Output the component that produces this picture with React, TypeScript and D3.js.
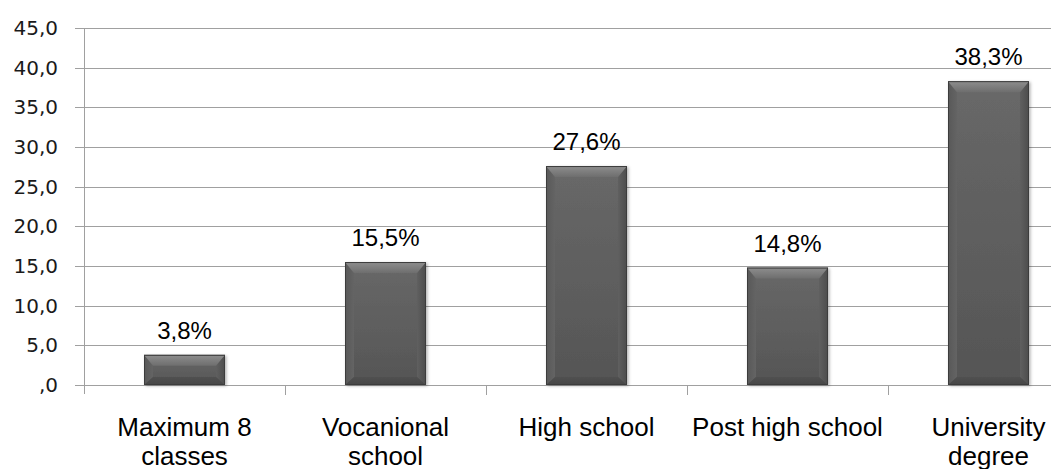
import React from "react";
import * as d3 from "d3";

// Education level of respondents (percent)
const categories: string[][] = [
  ["Maximum 8", "classes"],
  ["Vocanional", "school"],
  ["High school"],
  ["Post high school"],
  ["University", "degree"],
];
const values: number[] = [3.8, 15.5, 27.6, 14.8, 38.3];
const yTicks: number[] = [0, 5, 10, 15, 20, 25, 30, 35, 40, 45];
const yTickLabels: string[] = [",0", "5,0", "10,0", "15,0", "20,0", "25,0", "30,0", "35,0", "40,0", "45,0"];

const W = 1051;
const H = 469;
const left = 84;
const step = 201;
const top = 28;
const base = 385;

const fmt = (v: number) => v.toFixed(1).replace(".", ",") + "%";

export default function App() {
  const keys = categories.map((c) => c.join(" "));
  const x = d3
    .scaleBand<string>()
    .domain(keys)
    .range([left, left + step * keys.length])
    .paddingInner(0.597)
    .paddingOuter(0.597 / 2);
  const y = d3.scaleLinear().domain([0, 45]).range([base, top]);
  const grid = "#a0a0a0";
  const boundaries = d3.range(1, keys.length).map((i) => left + step * i);

  return (
    <div style={{ position: "fixed", left: 0, top: 0 }}>
      <svg width={W} height={H} style={{ display: "block", background: "#fff" }}>
        <defs>
          <linearGradient id="body" x1="0" y1="0" x2="0" y2="1">
            <stop offset="0" stopColor="#686868" />
            <stop offset="1" stopColor="#555555" />
          </linearGradient>
          <linearGradient id="topBevel" x1="0" y1="0" x2="0" y2="1">
            <stop offset="0" stopColor="#8e8e8e" />
            <stop offset="1" stopColor="#6e6e6e" />
          </linearGradient>
          <linearGradient id="leftBevel" x1="0" y1="0" x2="1" y2="0">
            <stop offset="0" stopColor="#585858" />
            <stop offset="1" stopColor="#646464" />
          </linearGradient>
          <linearGradient id="rightBevel" x1="0" y1="0" x2="1" y2="0">
            <stop offset="0" stopColor="#606060" />
            <stop offset="1" stopColor="#4c4c4c" />
          </linearGradient>
          <linearGradient id="bottomBevel" x1="0" y1="0" x2="0" y2="1">
            <stop offset="0" stopColor="#505050" />
            <stop offset="1" stopColor="#464646" />
          </linearGradient>
          <filter id="shadow" x="-10%" y="-10%" width="130%" height="130%">
            <feDropShadow dx="1.5" dy="1" stdDeviation="1.5" floodColor="#000" floodOpacity="0.3" />
          </filter>
        </defs>

        {/* horizontal gridlines with left ticks */}
        {yTicks.map((t) => (
          <line
            key={"g" + t}
            x1={left - 9}
            x2={W}
            y1={Math.round(y(t)) + 0.5}
            y2={Math.round(y(t)) + 0.5}
            stroke={grid}
            strokeWidth={1}
          />
        ))}
        {/* value axis */}
        <line x1={left + 0.5} x2={left + 0.5} y1={top} y2={base + 9} stroke={grid} strokeWidth={1} />
        {/* category separators */}
        {boundaries.map((b) => (
          <line key={"b" + b} x1={b + 0.5} x2={b + 0.5} y1={base} y2={base + 10} stroke={grid} strokeWidth={1} />
        ))}

        {yTicks.map((t, i) => (
          <text
            key={"l" + t}
            x={58}
            y={y(t) + 7}
            textAnchor="end"
            fontFamily="DejaVu Sans, Verdana, sans-serif"
            fontSize={20}
            fill="#1a1a1a"
          >
            {yTickLabels[i]}
          </text>
        ))}

        {values.map((v, i) => {
          const x0 = x(keys[i]) as number;
          const bw = x.bandwidth();
          const x1 = x0 + bw;
          const yt = y(v);
          const yb = y(0);
          const tb = 11;
          const sb = 9;
          const bb = 8;
          return (
            <g key={"bar" + i}>
              <g filter="url(#shadow)">
                <rect x={x0} y={yt} width={bw} height={yb - yt} fill="url(#body)" />
              </g>
              <polygon
                points={`${x0},${yt} ${x0 + sb},${yt + tb} ${x0 + sb},${yb - bb} ${x0},${yb}`}
                fill="url(#leftBevel)"
              />
              <polygon
                points={`${x1},${yt} ${x1 - sb},${yt + tb} ${x1 - sb},${yb - bb} ${x1},${yb}`}
                fill="url(#rightBevel)"
              />
              <polygon
                points={`${x0},${yb} ${x0 + sb},${yb - bb} ${x1 - sb},${yb - bb} ${x1},${yb}`}
                fill="url(#bottomBevel)"
              />
              <polygon
                points={`${x0},${yt} ${x1},${yt} ${x1 - sb},${yt + tb} ${x0 + sb},${yt + tb}`}
                fill="url(#topBevel)"
              />
              <rect
                x={x0 + 0.5}
                y={yt + 0.5}
                width={bw - 1}
                height={yb - yt - 1}
                fill="none"
                stroke="#3c3c3c"
                strokeWidth={1}
              />
              <text
                x={x0 + bw / 2}
                y={yt - 16}
                textAnchor="middle"
                fontFamily="Liberation Sans, Arial, sans-serif"
                fontSize={24}
                fill="#000"
              >
                {fmt(v)}
              </text>
            </g>
          );
        })}

        {categories.map((lines, i) => (
          <text
            key={"c" + i}
            textAnchor="middle"
            fontFamily="Liberation Sans, Arial, sans-serif"
            fontSize={26}
            fill="#000"
          >
            {lines.map((ln, j) => (
              <tspan key={j} x={(x(keys[i]) as number) + x.bandwidth() / 2} y={436 + j * 28.5}>
                {ln}
              </tspan>
            ))}
          </text>
        ))}
      </svg>
    </div>
  );
}
